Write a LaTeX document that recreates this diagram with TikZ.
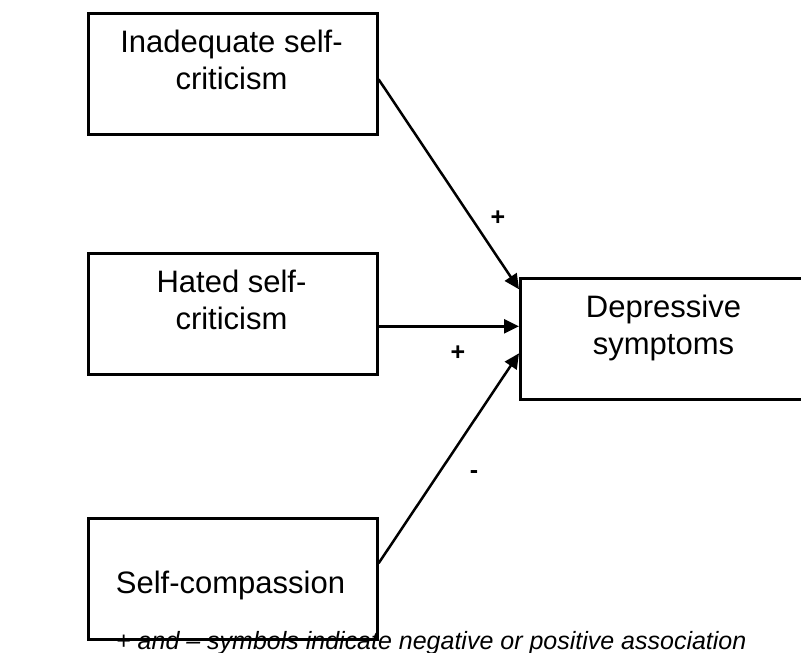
\documentclass[tikz,border=0pt]{standalone}
\usepackage{fontspec}
\setmainfont{Liberation Sans}
\usetikzlibrary{arrows.meta}
\begin{document}
\begin{tikzpicture}[x=1pt,y=-1pt,
  box/.style={draw, line width=2.6pt, minimum width=289pt, minimum height=121pt,
    inner sep=0pt, anchor=north west},
  boxtext/.style={font=\fontsize{31}{37}\selectfont, anchor=base, inner sep=0pt},
  sign/.style={font=\fontsize{25}{30}\selectfont\bfseries, inner sep=0pt},
  note/.style={font=\fontsize{25}{30}\selectfont\itshape, anchor=base west, inner sep=0pt},
  link/.style={line width=2.5pt, -{Triangle[length=15pt,width=14pt]}}]
\useasboundingbox (0,0) rectangle (801,653);

% predictor boxes
\node[box] (inad) at (87,12) {};
\node[box] (hated) at (87,252) {};
\node[box] (comp) at (87,517) {};
% outcome box
\node[box] (dep) at (519,277) {};

% box texts
\node[boxtext] (inad1) at (231.5,52) {Inadequate self-};
\node[boxtext] (inad2) at (231.5,89) {criticism};
\node[boxtext] (hated1) at (231.5,292) {Hated self-};
\node[boxtext] (hated2) at (231.5,329) {criticism};
\node[boxtext] (comp1) at (230.5,593) {Self-compassion};
\node[boxtext] (dep1) at (663.5,317) {Depressive};
\node[boxtext] (dep2) at (663.5,354) {symptoms};

% paths
\draw[link] ([yshift=-5.5pt]inad.east) -- ([yshift=49.5pt]dep.west);
\draw[link] ([yshift=-12.5pt]hated.east) -- ([yshift=12.5pt]dep.west);
\draw[link] ([yshift=15.5pt]comp.east) -- ([yshift=-14.5pt]dep.west);

% signs of the associations
\node[sign] (s1) at (498,218) {+};
\node[sign] (s2) at (458,353) {+};
\node[sign] (s3) at (474,475) {-};

% note
\node[note] (legend) at (116,649) {+ and – symbols indicate negative or positive association};
\end{tikzpicture}
\end{document}
